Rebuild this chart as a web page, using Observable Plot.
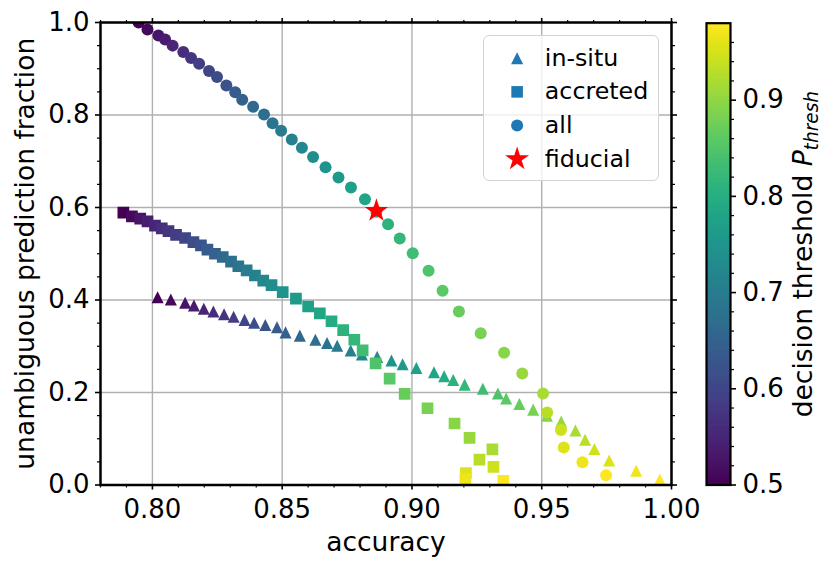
<!DOCTYPE html>
<html><head><meta charset="utf-8">
<script src="https://cdn.jsdelivr.net/npm/d3@7"></script>
<script src="https://cdn.jsdelivr.net/npm/@observablehq/plot@0.6"></script>
<style>
body{margin:0;background:#fff;}
#wrap{position:relative;width:831px;height:569px;font-family:"DejaVu Sans",sans-serif;}
#wrap > svg{position:absolute;}
</style></head><body><div id="wrap"></div>
<script>
const thresholds = [0.500,0.512,0.525,0.537,0.549,0.562,0.574,0.586,0.598,0.611,0.623,0.635,0.648,0.660,0.672,0.685,0.697,0.709,0.722,0.734,0.746,0.758,0.771,0.783,0.795,0.808,0.820,0.832,0.845,0.857,0.869,0.882,0.894,0.906,0.918,0.931,0.943,0.955,0.968,0.980];

const insituAcc = [0.8020,0.8071,0.8126,0.8160,0.8198,0.8235,0.8276,0.8313,0.8355,0.8392,0.8435,0.8480,0.8513,0.8568,0.8628,0.8673,0.8712,0.8764,0.8807,0.8866,0.8921,0.8964,0.9017,0.9085,0.9124,0.9159,0.9203,0.9273,0.9331,0.9363,0.9414,0.9467,0.9520,0.9575,0.9630,0.9667,0.9703,0.9760,0.9864,0.9955];
const insituFrac = [0.406,0.401,0.394,0.388,0.381,0.375,0.369,0.364,0.357,0.351,0.346,0.341,0.330,0.323,0.314,0.307,0.301,0.291,0.282,0.277,0.269,0.261,0.253,0.244,0.235,0.227,0.217,0.208,0.198,0.187,0.175,0.163,0.150,0.137,0.118,0.098,0.078,0.053,0.031,0.012];

const accretedAcc = [0.7888,0.7921,0.7953,0.7981,0.8010,0.8036,0.8062,0.8091,0.8126,0.8158,0.8187,0.8212,0.8241,0.8271,0.8303,0.8331,0.8363,0.8395,0.8427,0.8459,0.8502,0.8553,0.8600,0.8645,0.8690,0.8735,0.8778,0.8810,0.8860,0.8914,0.8972,0.9060,0.9164,0.9222,0.9310,0.9260,0.9314,0.9208,0.9206,0.9352];
const accretedFrac = [0.589,0.581,0.576,0.570,0.561,0.555,0.549,0.541,0.534,0.525,0.518,0.509,0.500,0.493,0.483,0.473,0.464,0.453,0.442,0.432,0.417,0.403,0.386,0.371,0.354,0.335,0.314,0.291,0.263,0.230,0.197,0.166,0.133,0.102,0.077,0.055,0.039,0.026,0.013,0.009];

const allAcc = [0.7947,0.7981,0.8023,0.8049,0.8078,0.8119,0.8149,0.8180,0.8218,0.8249,0.8285,0.8319,0.8346,0.8388,0.8430,0.8463,0.8496,0.8537,0.8576,0.8619,0.8667,0.8717,0.8765,0.8819,0.8863,0.8908,0.8953,0.9003,0.9064,0.9118,0.9181,0.9265,0.9355,0.9425,0.9505,0.9521,0.9574,0.9585,0.9657,0.9748];
const allFrac = [1.000,0.985,0.972,0.963,0.950,0.936,0.923,0.911,0.895,0.882,0.864,0.849,0.833,0.818,0.801,0.782,0.766,0.747,0.729,0.709,0.687,0.665,0.643,0.618,0.591,0.564,0.533,0.501,0.463,0.420,0.375,0.328,0.286,0.241,0.198,0.157,0.119,0.081,0.049,0.021];

const fiducialAcc = [0.8863];
const fiducialFrac = [0.593];

const xMajorTicks = [0.80,0.85,0.90,0.95,1.00];
const xMinorTicks = [0.78,0.79,0.81,0.82,0.83,0.84,0.86,0.87,0.88,0.89,0.91,0.92,0.93,0.94,0.96,0.97,0.98,0.99];
const yMajorTicks = [0.0,0.2,0.4,0.6,0.8,1.0];
const yMinorTicks = [0.05,0.10,0.15,0.25,0.30,0.35,0.45,0.50,0.55,0.65,0.70,0.75,0.85,0.90,0.95];
const cbMajorTicks = [0.5,0.6,0.7,0.8,0.9];
const cbMinorTicks = [0.52,0.54,0.56,0.58,0.62,0.64,0.66,0.68,0.72,0.74,0.76,0.78,0.82,0.84,0.86,0.88,0.92,0.94,0.96];

const legendLabels = ["in-situ","accreted","all","fiducial"];

const COLOR_DOMAIN = [0.5, 0.98];
const mplTriangle = {
  draw(ctx, size) {
    const a = Math.sqrt(size / 2);
    ctx.moveTo(0, -a); ctx.lineTo(a, a); ctx.lineTo(-a, a); ctx.closePath();
  }
};

const build = (acc, frac) => thresholds.map((t, i) => ({x: acc[i], y: frac[i], t}));
const insitu = build(insituAcc, insituFrac);
const accreted = build(accretedAcc, accretedFrac);
const all = build(allAcc, allFrac);
const fiducial = fiducialAcc.map((x, i) => ({x, y: fiducialFrac[i]}));

const wrap = document.getElementById("wrap");
const font = "DejaVu Sans";
const empty = () => "";

const main = Plot.plot({
  width: 831, height: 569,
  marginLeft: 100, marginRight: 160, marginTop: 22, marginBottom: 84.5,
  x: {domain: [0.78, 1.0]},
  y: {domain: [0, 1]},
  color: {type: "linear", scheme: "viridis", domain: COLOR_DOMAIN},
  style: {fontFamily: font, fontSize: "26px", color: "black", background: "white", overflow: "visible"},
  marks: [
    Plot.gridX(xMajorTicks, {stroke: "#b0b0b0", strokeOpacity: 1, strokeWidth: 1.4}),
    Plot.gridY(yMajorTicks, {stroke: "#b0b0b0", strokeOpacity: 1, strokeWidth: 1.4}),
    Plot.dot(insitu, {x: "x", y: "y", fill: "t", symbol: mplTriangle, r: 4.8, clip: true}),
    Plot.dot(accreted, {x: "x", y: "y", fill: "t", symbol: "square", r: 6.6, clip: true}),
    Plot.dot(all, {x: "x", y: "y", fill: "t", symbol: "circle", r: 6.0, clip: true}),
    Plot.dot(fiducial, {x: "x", y: "y", fill: "red", symbol: "star", r: 7.4}),
    Plot.frame({stroke: "black", strokeWidth: 2.5}),
    Plot.axisX(xMajorTicks, {anchor: "bottom", tickSize: 5, tickPadding: 10, strokeWidth: 1.6, tickFormat: d => d.toFixed(2), label: null}),
    Plot.axisX(xMinorTicks, {anchor: "bottom", tickSize: 3, strokeWidth: 1.2, tickFormat: empty, label: null}),
    Plot.axisX(xMajorTicks, {anchor: "top", tickSize: 5, strokeWidth: 1.6, tickFormat: empty, label: null}),
    Plot.axisX(xMinorTicks, {anchor: "top", tickSize: 3, strokeWidth: 1.2, tickFormat: empty, label: null}),
    Plot.axisY(yMajorTicks, {anchor: "left", tickSize: 5, tickPadding: 6, strokeWidth: 1.6, tickFormat: d => d.toFixed(1), label: null}),
    Plot.axisY(yMinorTicks, {anchor: "left", tickSize: 3, strokeWidth: 1.2, tickFormat: empty, label: null}),
    Plot.axisY(yMajorTicks, {anchor: "right", tickSize: 5, strokeWidth: 1.6, tickFormat: empty, label: null}),
    Plot.axisY(yMinorTicks, {anchor: "right", tickSize: 3, strokeWidth: 1.2, tickFormat: empty, label: null}),
    Plot.text(["accuracy"], {frameAnchor: "bottom", dy: 58, textAnchor: "middle", lineAnchor: "middle", fontSize: 26.5, fill: "black"}),
    Plot.text(["unambiguous prediction fraction"], {frameAnchor: "left", dx: -75, rotate: -90, textAnchor: "middle", lineAnchor: "middle", fontSize: 26.5, fill: "black"})
  ]
});
main.style.left = "0px"; main.style.top = "0px";
wrap.appendChild(main);

const cbSteps = d3.range(0.5, 0.98, 0.002);
const cb = Plot.plot({
  width: 831, height: 569,
  marginLeft: 706, marginRight: 101, marginTop: 22.7, marginBottom: 84.5,
  x: {domain: [0, 1], axis: null},
  y: {domain: COLOR_DOMAIN},
  color: {type: "linear", scheme: "viridis", domain: COLOR_DOMAIN},
  style: {fontFamily: font, fontSize: "26px", color: "black", background: "transparent", overflow: "visible"},
  marks: [
    Plot.rect(cbSteps, {x1: 0, x2: 1, y1: d => d, y2: d => Math.min(d + 0.0028, 0.98), fill: d => d + 0.001}),
    Plot.frame({stroke: "black", strokeWidth: 2.2}),
    Plot.axisY(cbMajorTicks, {anchor: "right", tickSize: 5, tickPadding: 7, strokeWidth: 1.6, tickFormat: d => d.toFixed(1), label: null}),
    Plot.axisY(cbMinorTicks, {anchor: "right", tickSize: 3, strokeWidth: 1.2, tickFormat: empty, label: null}),
    Plot.text(["decision threshold "], {frameAnchor: "right", dx: 73, rotate: -90, textAnchor: "middle", lineAnchor: "middle", fontSize: 26.5, fill: "black"})
  ]
});
cb.style.left = "0px"; cb.style.top = "0px";
wrap.appendChild(cb);
// rich text for colorbar label: italic P with italic subscript "thresh"
d3.select(cb).selectAll("text").each(function() {
  if (this.textContent.startsWith("decision threshold")) {
    const t = d3.select(this);
    t.text("decision threshold ");
    t.append("tspan").attr("font-style", "italic").text("P");
    t.append("tspan").attr("font-style", "italic").attr("font-size", "0.7em").attr("dy", "0.3em").text("thresh");
  }
});

const legendRows = [
  {label: legendLabels[0], symbol: mplTriangle, color: "#1f77b4", r: 4.9},
  {label: legendLabels[1], symbol: "square", color: "#1f77b4", r: 6.6},
  {label: legendLabels[2], symbol: "circle", color: "#1f77b4", r: 6.1},
  {label: legendLabels[3], symbol: "star", color: "red", r: 7.6}
];
const leg = Plot.plot({
  width: 176, height: 146,
  margin: 0,
  y: {type: "point", domain: legendLabels, range: [21, 125], padding: 0, axis: null},
  style: {fontFamily: font, fontSize: "24px", color: "black",
          background: "rgba(255,255,255,0.8)", border: "1.3px solid #d3d3d3",
          borderRadius: "6px", boxSizing: "border-box", overflow: "visible"},
  marks: [
    ...legendRows.map(row => Plot.dot([row], {y: "label", frameAnchor: "left", dx: 33, symbol: row.symbol, fill: row.color, r: row.r})),
    Plot.text(legendRows, {y: "label", text: "label", frameAnchor: "left", dx: 61, textAnchor: "start", lineAnchor: "middle", fontSize: 24, fill: "black"})
  ]
});
leg.style.left = "483px"; leg.style.top = "35px";
wrap.appendChild(leg);
</script>
</body></html>
